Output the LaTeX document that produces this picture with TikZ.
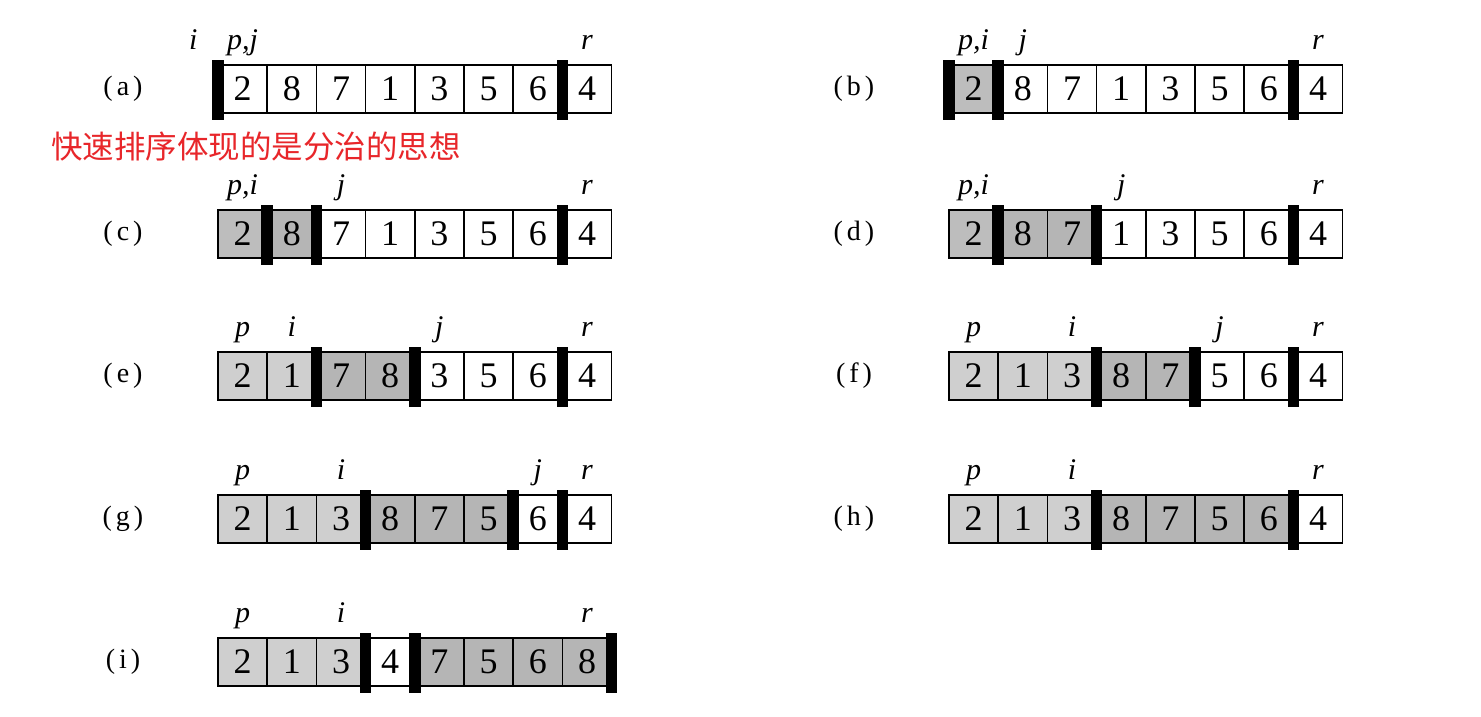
\documentclass[tikz,border=0pt]{standalone}
\usepackage{fontspec}
\setmainfont{Liberation Serif}
\newfontfamily\cjk{Noto Sans CJK SC}
\definecolor{redtxt}{RGB}{232,38,42}
\tikzset{
  cell/.style={draw=black, line width=1.6pt, minimum width=49.2pt, minimum height=48pt,
    inner sep=0pt, font=\fontsize{36}{40}\selectfont},
  wt/.style={fill=white},
  lt/.style={fill=gray!38},
  pv/.style={fill=gray!52},
  dk/.style={fill=gray!58},
  bar/.style={fill=black, draw=none, minimum width=11.5pt, minimum height=60pt, inner sep=0pt},
  ptr/.style={font=\fontsize{30}{34}\selectfont\itshape, inner sep=0pt, anchor=base},
  lbl/.style={font=\fontsize{28}{32}\selectfont, inner sep=0pt},
  note/.style={font=\cjk\fontsize{31.5}{36}\selectfont, text=redtxt, inner sep=0pt, anchor=west}
}
\newcommand\qsrow[7]{%
  \node[lbl] (#1lab) at ({#2-95}, #3) {(\hspace{4pt}#7\hspace{4pt})};
  \foreach \v/\s [count=\k] in {#4} {\node[cell,\s] (#1\k) at ({#2+(\k-0.5)*49.2}, #3) {\v};}
  \foreach \b in {#5} {\node[bar] (#1b\b) at ({#2+\b*49.2}, {#3+1}) {};}
  \foreach \k/\t in {#6} {\node[ptr] (#1p\k) at ({#2+(\k-0.5)*49.2}, {#3-40}) {\t};}
}
\begin{document}
\begin{tikzpicture}[x=1pt,y=-1pt]
\useasboundingbox[fill=white] (0,0) rectangle (1481,716);
\qsrow{a}{218}{89}{2/wt,8/wt,7/wt,1/wt,3/wt,5/wt,6/wt,4/wt}{0,7}{0/i,1/{p,j},8/r}{a}
\qsrow{b}{949}{89}{2/pv,8/wt,7/wt,1/wt,3/wt,5/wt,6/wt,4/wt}{0,1,7}{1/{p,i},2/j,8/r}{b}
\qsrow{c}{218}{234}{2/pv,8/dk,7/wt,1/wt,3/wt,5/wt,6/wt,4/wt}{1,2,7}{1/{p,i},3/j,8/r}{c}
\qsrow{d}{949}{234}{2/pv,8/dk,7/dk,1/wt,3/wt,5/wt,6/wt,4/wt}{1,3,7}{1/{p,i},4/j,8/r}{d}
\qsrow{e}{218}{376}{2/lt,1/lt,7/dk,8/dk,3/wt,5/wt,6/wt,4/wt}{2,4,7}{1/p,2/i,5/j,8/r}{e}
\qsrow{f}{949}{376}{2/lt,1/lt,3/lt,8/dk,7/dk,5/wt,6/wt,4/wt}{3,5,7}{1/p,3/i,6/j,8/r}{f}
\qsrow{g}{218}{519}{2/lt,1/lt,3/lt,8/dk,7/dk,5/dk,6/wt,4/wt}{3,6,7}{1/p,3/i,7/j,8/r}{g}
\qsrow{h}{949}{519}{2/lt,1/lt,3/lt,8/dk,7/dk,5/dk,6/dk,4/wt}{3,7}{1/p,3/i,8/r}{h}
\qsrow{i}{218}{662}{2/lt,1/lt,3/lt,4/wt,7/dk,5/dk,6/dk,8/dk}{3,4,8}{1/p,3/i,8/r}{i}
\node[note] (note) at (51,147) {快速排序体现的是分治的思想};
\end{tikzpicture}
\end{document}
